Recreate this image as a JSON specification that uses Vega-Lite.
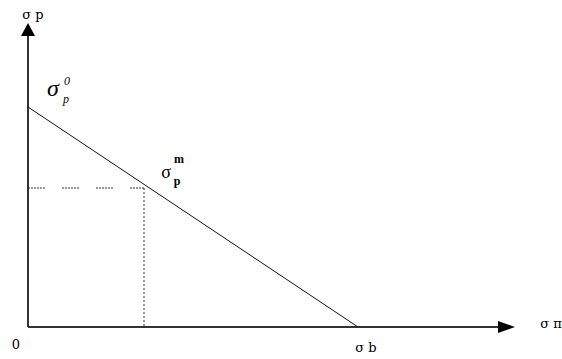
{
  "$schema": "https://vega.github.io/schema/vega-lite/v6.json",
  "width": 562,
  "height": 359,
  "autosize": {"type": "none"},
  "padding": 0,
  "background": "white",
  "config": {"view": {"stroke": null}},
  "datasets": {
    "segments": [
      {"kind": "axis", "x": 0, "y": 0, "x2": 472, "y2": 0},
      {"kind": "axis", "x": 0, "y": 0, "x2": 0, "y2": 291},
      {"kind": "limit", "x": 0, "y": 220, "x2": 330, "y2": 0},
      {"kind": "hguide", "x": 0, "y": 139, "x2": 116, "y2": 139},
      {"kind": "vguide", "x": 116, "y": 139, "x2": 116, "y2": 0}
    ],
    "arrows": [
      {"dir": "up", "x": 0, "y": 297.5},
      {"dir": "right", "x": 478.5, "y": 0}
    ],
    "labels": [
      {"group": "main", "text": "σ p", "x": 5, "y": 308},
      {"group": "main", "text": "0", "x": -12, "y": -22},
      {"group": "main", "text": "σ b", "x": 338, "y": -25},
      {"group": "main", "text": "σ π", "x": 523, "y": -1},
      {"group": "sigma_m", "text": "σ", "x": 138, "y": 149},
      {"group": "sigma_0", "text": "σ", "x": 25, "y": 231},
      {"group": "small", "text": "m", "x": 151, "y": 164},
      {"group": "small", "text": "p", "x": 149, "y": 142},
      {"group": "small_it", "text": "0", "x": 39, "y": 242},
      {"group": "small_it", "text": "p", "x": 38, "y": 224}
    ]
  },
  "layer": [
    {
      "data": {"name": "segments"},
      "transform": [{"filter": "datum.kind === 'axis'"}],
      "mark": {"type": "rule", "stroke": "#333333", "strokeWidth": 2},
      "encoding": {
        "x": {"field": "x", "type": "quantitative", "scale": {"domain": [-28, 534], "nice": false, "zero": false}, "axis": null},
        "y": {"field": "y", "type": "quantitative", "scale": {"domain": [-32, 327], "nice": false, "zero": false}, "axis": null},
        "x2": {"field": "x2"},
        "y2": {"field": "y2"}
      }
    },
    {
      "data": {"name": "segments"},
      "transform": [{"filter": "datum.kind === 'limit'"}],
      "mark": {"type": "rule", "stroke": "#111111", "strokeWidth": 1},
      "encoding": {
        "x": {"field": "x", "type": "quantitative", "scale": {"domain": [-28, 534], "nice": false, "zero": false}, "axis": null},
        "y": {"field": "y", "type": "quantitative", "scale": {"domain": [-32, 327], "nice": false, "zero": false}, "axis": null},
        "x2": {"field": "x2"},
        "y2": {"field": "y2"}
      }
    },
    {
      "data": {"name": "segments"},
      "transform": [{"filter": "datum.kind === 'hguide'"}],
      "mark": {"type": "rule", "stroke": "#333333", "strokeWidth": 1, "strokeDash": [2, 1, 2, 1, 2, 1, 2, 1, 2, 1, 2, 17]},
      "encoding": {
        "x": {"field": "x", "type": "quantitative", "scale": {"domain": [-28, 534], "nice": false, "zero": false}, "axis": null},
        "y": {"field": "y", "type": "quantitative", "scale": {"domain": [-32, 327], "nice": false, "zero": false}, "axis": null},
        "x2": {"field": "x2"},
        "y2": {"field": "y2"}
      }
    },
    {
      "data": {"name": "segments"},
      "transform": [{"filter": "datum.kind === 'vguide'"}],
      "mark": {"type": "rule", "stroke": "#333333", "strokeWidth": 1, "strokeDash": [2, 2]},
      "encoding": {
        "x": {"field": "x", "type": "quantitative", "scale": {"domain": [-28, 534], "nice": false, "zero": false}, "axis": null},
        "y": {"field": "y", "type": "quantitative", "scale": {"domain": [-32, 327], "nice": false, "zero": false}, "axis": null},
        "x2": {"field": "x2"},
        "y2": {"field": "y2"}
      }
    },
    {
      "data": {"name": "arrows"},
      "transform": [{"filter": "datum.dir === 'up'"}],
      "mark": {"type": "point", "filled": true, "color": "#000000", "opacity": 1, "size": 196, "shape": "M0,-0.93L1,0.93L-1,0.93Z"},
      "encoding": {
        "x": {"field": "x", "type": "quantitative", "scale": {"domain": [-28, 534], "nice": false, "zero": false}, "axis": null},
        "y": {"field": "y", "type": "quantitative", "scale": {"domain": [-32, 327], "nice": false, "zero": false}, "axis": null}
      }
    },
    {
      "data": {"name": "arrows"},
      "transform": [{"filter": "datum.dir === 'right'"}],
      "mark": {"type": "point", "filled": true, "color": "#000000", "opacity": 1, "size": 289, "shape": "M1,0L-1,-0.7L-1,0.7Z"},
      "encoding": {
        "x": {"field": "x", "type": "quantitative", "scale": {"domain": [-28, 534], "nice": false, "zero": false}, "axis": null},
        "y": {"field": "y", "type": "quantitative", "scale": {"domain": [-32, 327], "nice": false, "zero": false}, "axis": null}
      }
    },
    {
      "data": {"name": "labels"},
      "transform": [{"filter": "datum.group === 'main'"}],
      "mark": {"type": "text", "font": "DejaVu Serif", "fontSize": 13, "fill": "#000000", "align": "center", "baseline": "alphabetic"},
      "encoding": {
        "x": {"field": "x", "type": "quantitative", "scale": {"domain": [-28, 534], "nice": false, "zero": false}, "axis": null},
        "y": {"field": "y", "type": "quantitative", "scale": {"domain": [-32, 327], "nice": false, "zero": false}, "axis": null},
        "text": {"field": "text"}
      }
    },
    {
      "data": {"name": "labels"},
      "transform": [{"filter": "datum.group === 'sigma_m'"}],
      "mark": {"type": "text", "font": "Liberation Serif", "fontSize": 18, "fill": "#000000", "align": "center", "baseline": "alphabetic"},
      "encoding": {
        "x": {"field": "x", "type": "quantitative", "scale": {"domain": [-28, 534], "nice": false, "zero": false}, "axis": null},
        "y": {"field": "y", "type": "quantitative", "scale": {"domain": [-32, 327], "nice": false, "zero": false}, "axis": null},
        "text": {"field": "text"}
      }
    },
    {
      "data": {"name": "labels"},
      "transform": [{"filter": "datum.group === 'sigma_0'"}],
      "mark": {"type": "text", "font": "Liberation Serif", "fontSize": 24, "fontStyle": "italic", "fill": "#000000", "align": "center", "baseline": "alphabetic"},
      "encoding": {
        "x": {"field": "x", "type": "quantitative", "scale": {"domain": [-28, 534], "nice": false, "zero": false}, "axis": null},
        "y": {"field": "y", "type": "quantitative", "scale": {"domain": [-32, 327], "nice": false, "zero": false}, "axis": null},
        "text": {"field": "text"}
      }
    },
    {
      "data": {"name": "labels"},
      "transform": [{"filter": "datum.group === 'small'"}],
      "mark": {"type": "text", "font": "Liberation Serif", "fontSize": 12, "fontWeight": "bold", "fill": "#000000", "align": "center", "baseline": "alphabetic"},
      "encoding": {
        "x": {"field": "x", "type": "quantitative", "scale": {"domain": [-28, 534], "nice": false, "zero": false}, "axis": null},
        "y": {"field": "y", "type": "quantitative", "scale": {"domain": [-32, 327], "nice": false, "zero": false}, "axis": null},
        "text": {"field": "text"}
      }
    },
    {
      "data": {"name": "labels"},
      "transform": [{"filter": "datum.group === 'small_it'"}],
      "mark": {"type": "text", "font": "Liberation Serif", "fontSize": 12, "fontStyle": "italic", "fill": "#000000", "align": "center", "baseline": "alphabetic"},
      "encoding": {
        "x": {"field": "x", "type": "quantitative", "scale": {"domain": [-28, 534], "nice": false, "zero": false}, "axis": null},
        "y": {"field": "y", "type": "quantitative", "scale": {"domain": [-32, 327], "nice": false, "zero": false}, "axis": null},
        "text": {"field": "text"}
      }
    }
  ]
}
